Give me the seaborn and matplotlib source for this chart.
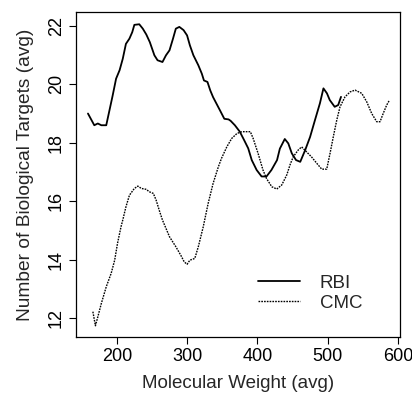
import numpy as np
import pandas as pd
import seaborn as sns
import matplotlib
matplotlib.use('Agg')
import matplotlib.pyplot as plt

# traced curves (molecular weight, avg number of targets)
rbi_mw = [159, 168, 173, 178, 185, 189.5, 194, 199, 204, 208.5, 213, 218, 222, 225, 232, 237,
          242, 247, 253.5, 258, 265, 270, 275, 280, 284, 289, 295, 300, 304, 309, 316, 321,
          324, 329, 333, 337, 342, 347, 353, 359, 362, 368, 375, 381, 387, 392, 399, 406,
          413, 420, 428, 432, 439, 444, 449, 455, 461, 468, 475, 482, 489, 494, 499, 503,
          510, 515, 519]
rbi_tg = [19.0, 18.6, 18.66, 18.6, 18.6, 19.1, 19.6, 20.19, 20.48, 20.87, 21.38, 21.56, 21.78,
          22.03, 22.05, 21.9, 21.7, 21.44, 20.99, 20.82, 20.76, 20.99, 21.16, 21.56, 21.9,
          21.96, 21.85, 21.67, 21.33, 20.99, 20.65, 20.36, 20.13, 20.08, 19.79, 19.56, 19.33,
          19.1, 18.82, 18.8, 18.75, 18.6, 18.38, 18.1, 17.81, 17.41, 17.07, 16.85, 16.85,
          17.07, 17.41, 17.8, 18.13, 17.98, 17.64, 17.41, 17.35, 17.75, 18.2, 18.78, 19.35,
          19.86, 19.69, 19.46, 19.23, 19.29, 19.57]

cmc_mw = [166, 169.6, 173, 178, 185, 192, 197, 201, 206, 208.5, 213, 218, 225, 230, 235, 242,
          246, 252, 256, 261, 265, 268, 275, 284, 291, 296, 300, 304, 311, 316, 323, 330,
          337, 344.5, 349, 356.5, 363.5, 371, 378, 390, 394, 401, 408, 413, 420.5, 427.6,
          434.7, 441.8, 446.5, 451, 458, 463, 470, 477, 484.5, 491.6, 498.7, 503.4, 508, 513,
          517.6, 524.7, 532, 539, 548.5, 555.6, 562.7, 569.8, 574.5, 579, 584, 588]
cmc_tg = [12.23, 11.75, 12.05, 12.51, 13.08, 13.54, 13.99, 14.56, 15.13, 15.36, 15.81, 16.21,
          16.44, 16.52, 16.44, 16.41, 16.33, 16.27, 16.04, 15.65, 15.36, 15.19, 14.79, 14.45,
          14.16, 13.93, 13.85, 13.99, 14.05, 14.45, 15.13, 15.93, 16.61, 17.18, 17.47, 17.86,
          18.15, 18.32, 18.38, 18.38, 18.15, 17.64, 17.07, 16.78, 16.5, 16.42, 16.56, 16.9,
          17.25, 17.52, 17.75, 17.86, 17.69, 17.52, 17.3, 17.1, 17.1, 17.64, 18.2, 18.78,
          19.23, 19.57, 19.74, 19.8, 19.69, 19.4, 19.0, 18.72, 18.72, 19.0, 19.29, 19.46]

df = pd.concat([
    pd.DataFrame({'mw': rbi_mw, 'targets': rbi_tg, 'set': 'RBI'}),
    pd.DataFrame({'mw': cmc_mw, 'targets': cmc_tg, 'set': 'CMC'}),
])

sns.set_style('ticks')
plt.rcParams['font.family'] = ['Liberation Sans', 'DejaVu Sans']

fig = plt.figure(figsize=(4.12, 3.99), dpi=100)
ax = fig.add_axes([0.1845, 0.155, 0.7865, 0.815])

sns.lineplot(data=df, x='mw', y='targets', hue='set', style='set', sort=False,
             palette={'RBI': 'black', 'CMC': 'black'},
             dashes={'RBI': '', 'CMC': (1.2, 0.8)}, ax=ax, legend=False)
ax.lines[0].set_linewidth(1.3)
ax.lines[1].set_linewidth(1.0)

ax.set_xlim(142, 603)
ax.set_ylim(11.36, 22.47)
ax.set_xticks([200, 300, 400, 500, 600])
ax.set_yticks([12, 14, 16, 18, 20, 22])
ax.tick_params(labelsize=13, length=5, width=0.8, pad=3, color='black', labelcolor='black')
for lab in ax.get_yticklabels():
    lab.set_rotation(90)
    lab.set_va('center')
for s in ax.spines.values():
    s.set_visible(True)
    s.set_color('black')
    s.set_linewidth(0.9)
ax.set_xlabel('Molecular Weight (avg)', fontsize=13.5, labelpad=7)
ax.set_ylabel('Number of Biological Targets (avg)', fontsize=13.8, labelpad=10)

handles = [plt.Line2D([], [], color='black', lw=1.3),
           plt.Line2D([], [], color='black', lw=1.0, ls=(0, (1.2, 0.8)))]
ax.legend(handles, ['RBI', 'CMC'], frameon=False, fontsize=13.5,
          loc='lower right', bbox_to_anchor=(0.935, 0.026), handlelength=2.2,
          handletextpad=1.07, labelspacing=0.15)

fig.savefig('out.png', dpi=100)
